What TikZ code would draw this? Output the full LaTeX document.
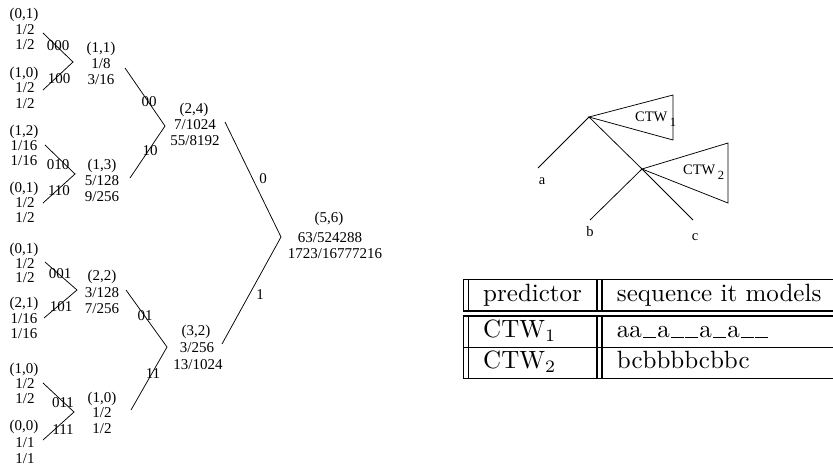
\documentclass[tikz,border=0pt]{standalone}
\usepackage{fontspec}
\usepackage{graphicx}
\newfontfamily\treefont{Liberation Serif}
\tikzset{
  lbl/.style={font={\treefont\fontsize{15}{17}\selectfont}, inner sep=0pt,
              text height=10pt, text depth=0pt},
  leaf/.style={font={\treefont\fontsize{14.5}{16}\selectfont}, inner sep=0pt},
  edge/.style={line width=0.75pt},
}
\newcommand{\ctwlabel}[1]{CTW\,\raisebox{-4.5pt}{\fontsize{12.5}{14}\selectfont #1}}
% a blank position in a modelled sequence, drawn as a short rule on the baseline
\newcommand{\blankpos}{\kern0.06em\rule[-0.2pt]{0.5em}{0.4pt}}
\begin{document}
\begin{tikzpicture}[x=1pt,y=-1pt]
\useasboundingbox (0,0) rectangle (833,466);

% ---------- leaves, first group ----------
\node[lbl] (g1a1) at (24,13)  {(0,1)};
\node[lbl] (g1a2) at (25,29)  {1/2};
\node[lbl] (g1a3) at (25,44)  {1/2};
\node[lbl] (g1b1) at (24,72)  {(1,0)};
\node[lbl] (g1b2) at (25,87)  {1/2};
\node[lbl] (g1b3) at (25,103) {1/2};
\node[lbl] (e000) at (58,45)  {000};
\node[lbl] (e100) at (59,78)  {100};
\node[lbl] (p1a) at (101,47) {(1,1)};
\node[lbl] (p1b) at (101,63) {1/8};
\node[lbl] (p1c) at (101,79) {3/16};
\coordinate (g1t) at (43,33);
\coordinate (g1v) at (73,62);
\coordinate (g1b) at (43,90);
\draw[edge] (g1t) -- (g1v) -- (g1b);

% ---------- second group ----------
\node[lbl] (g2a1) at (24,130) {(1,2)};
\node[lbl] (g2a2) at (24,145) {1/16};
\node[lbl] (g2a3) at (24,160) {1/16};
\node[lbl] (g2b1) at (24,187) {(0,1)};
\node[lbl] (g2b2) at (25,202) {1/2};
\node[lbl] (g2b3) at (25,217) {1/2};
\node[lbl] (e010) at (58,164) {010};
\node[lbl] (e110) at (59,190) {110};
\node[lbl] (p2a) at (102,164) {(1,3)};
\node[lbl] (p2b) at (102,180) {5/128};
\node[lbl] (p2c) at (102,196) {9/256};
\coordinate (g2t) at (45,145);
\coordinate (g2v) at (75,174);
\coordinate (g2b) at (43,203);
\draw[edge] (g2t) -- (g2v) -- (g2b);

% ---------- third group ----------
\node[lbl] (g3a1) at (24,248) {(0,1)};
\node[lbl] (g3a2) at (25,263) {1/2};
\node[lbl] (g3a3) at (25,277) {1/2};
\node[lbl] (g3b1) at (24,302) {(2,1)};
\node[lbl] (g3b2) at (24,318) {1/16};
\node[lbl] (g3b3) at (24,333) {1/16};
\node[lbl] (e001) at (60,273) {001};
\node[lbl] (e101) at (61,306) {101};
\node[lbl] (p3a) at (102,275) {(2,2)};
\node[lbl] (p3b) at (102,292) {3/128};
\node[lbl] (p3c) at (102,308) {7/256};
\coordinate (g3t) at (45,262);
\coordinate (g3v) at (77,290);
\coordinate (g3b) at (44,318);
\draw[edge] (g3t) -- (g3v) -- (g3b);

% ---------- fourth group ----------
\node[lbl] (g4a1) at (24,368) {(1,0)};
\node[lbl] (g4a2) at (25,383) {1/2};
\node[lbl] (g4a3) at (25,398) {1/2};
\node[lbl] (g4b1) at (24,425) {(0,0)};
\node[lbl] (g4b2) at (25,442) {1/1};
\node[lbl] (g4b3) at (25,458) {1/1};
\node[lbl] (e011) at (63,402) {011};
\node[lbl] (e111) at (63,429) {111};
\node[lbl] (p4a) at (102,397) {(1,0)};
\node[lbl] (p4b) at (102,412) {1/2};
\node[lbl] (p4c) at (102,428) {1/2};
\coordinate (g4t) at (43,383);
\coordinate (g4v) at (74,412);
\coordinate (g4b) at (43,440);
\draw[edge] (g4t) -- (g4v) -- (g4b);

% ---------- second level ----------
\node[lbl] (e00) at (149,101) {00};
\node[lbl] (e10) at (150,150) {10};
\node[lbl] (q1a) at (194,108) {(2,4)};
\node[lbl] (q1b) at (195,124) {7/1024};
\node[lbl] (q1c) at (195,140) {55/8192};
\coordinate (h1t) at (125,68);
\coordinate (h1v) at (165,126);
\coordinate (h1b) at (130,178);
\draw[edge] (h1t) -- (h1v) -- (h1b);

\node[lbl] (e01) at (145,315) {01};
\node[lbl] (e11) at (153,373) {11};
\node[lbl] (q2a) at (196,330) {(3,2)};
\node[lbl] (q2b) at (197,347) {3/256};
\node[lbl] (q2c) at (198,364) {13/1024};
\coordinate (h2t) at (126,290);
\coordinate (h2v) at (167,347);
\coordinate (h2b) at (131,410);
\draw[edge] (h2t) -- (h2v) -- (h2b);

% ---------- root ----------
\node[lbl] (e0) at (263,178) {0};
\node[lbl] (e1) at (260,294) {1};
\node[lbl] (ra) at (329,217) {(5,6)};
\node[lbl] (rb) at (330,237) {63/524288};
\node[lbl] (rc) at (335,253) {1723/16777216};
\coordinate (k1t) at (225,122);
\coordinate (k1v) at (281,237);
\coordinate (k1b) at (222,344);
\draw[edge] (k1t) -- (k1v) -- (k1b);

% ---------- context tree with two predictors ----------
\coordinate (croot) at (589,117);
\coordinate (cchild) at (642,169);
\coordinate (enda) at (538,168);
\coordinate (endb) at (590,220);
\coordinate (endc) at (693,220);
\coordinate (t1top) at (673,95);
\coordinate (t1bot) at (673,140);
\coordinate (t2top) at (728,143);
\coordinate (t2bot) at (728,203);
\draw[edge] (enda) -- (croot) -- (cchild) -- (endc);
\draw[edge] (cchild) -- (endb);
\draw[edge] (croot) -- (t1top) -- (t1bot) -- cycle;
\draw[edge] (cchild) -- (t2top) -- (t2bot) -- cycle;
\node[leaf] (la) at (542,181) {a};
\node[leaf] (lb) at (590,232) {b};
\node[leaf] (lc) at (695,237) {c};
\node[leaf, anchor=west, text height=9.5pt, text depth=0pt] (ctw1) at (635,117) {\ctwlabel{1}};
\node[leaf, anchor=west, text height=9.5pt, text depth=0pt] (ctw2) at (683,170) {\ctwlabel{2}};

% ---------- table of predictors ----------
\node[anchor=north west, inner sep=0pt] (tbl) at (463,279) {\scalebox{2.5}{%
  \setlength{\arrayrulewidth}{0.5pt}%
  \begin{tabular}{||l||l||}
    \hline
    predictor & sequence it models \\
    \hline\hline
    CTW$_1$ & aa\blankpos\kern0.06em a\blankpos\blankpos\kern0.06em a\blankpos\kern0.06em a\blankpos\blankpos \\
    \hline
    CTW$_2$ & bcbbbbcbbc \\
    \hline
  \end{tabular}}};
\end{tikzpicture}
\end{document}
